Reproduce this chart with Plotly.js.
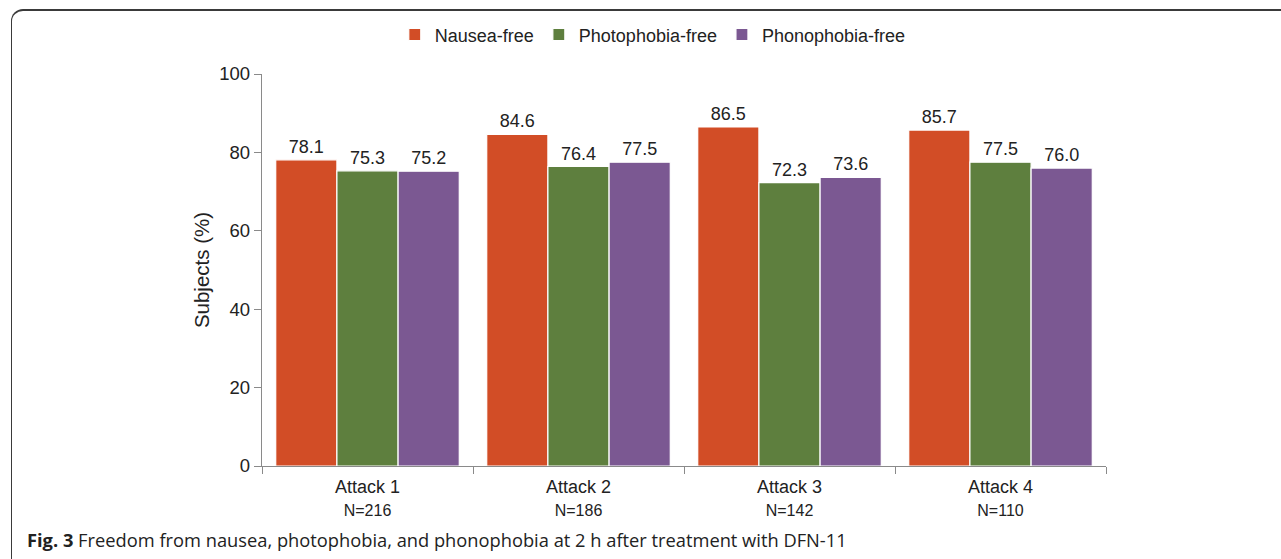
<!DOCTYPE html>
<html>
<head>
<meta charset="utf-8">
<script src="https://cdn.plot.ly/plotly-3.0.1.min.js"></script>
<style>
  html, body { margin: 0; padding: 0; background: #fff; overflow: hidden; }
  #wrap { position: relative; width: 1281px; height: 559px; }
  #chart { position: absolute; left: 0; top: 0; width: 1281px; height: 559px; }
  #frame { position: absolute; left: 11px; top: 9px; width: 1320px; height: 560px;
           border-top: 2px solid #3a3a3a; border-left: 1.5px solid #3a3a3a;
           border-top-left-radius: 12px; pointer-events: none; }
</style>
</head>
<body>
<div id="wrap">
  <div id="chart"></div>
  <div id="frame"></div>
</div>
<script>
const categories = ["Attack 1", "Attack 2", "Attack 3", "Attack 4"];
const sampleSizes = ["N=216", "N=186", "N=142", "N=110"];
const seriesNames = ["Nausea-free", "Photophobia-free", "Phonophobia-free"];
const nauseaFree = [78.1, 84.6, 86.5, 85.7];
const photophobiaFree = [75.3, 76.4, 72.3, 77.5];
const phonophobiaFree = [75.2, 77.5, 73.6, 76.0];
const yTicks = [0, 20, 40, 60, 80, 100];
const captionBold = "Fig. 3";
const captionText = " Freedom from nausea, photophobia, and phonophobia at 2 h after treatment with DFN-11";

const colors = ["#D24D26", "#5E7F3E", "#7B5892"];
const values = [nauseaFree, photophobiaFree, phonophobiaFree];

const xLabels = categories.map((c, i) => c + "<br><span style='font-size:16px'>" + sampleSizes[i] + "</span>");

const traces = values.map((v, k) => ({
  type: "bar",
  name: seriesNames[k],
  x: xLabels,
  y: v,
  marker: { color: colors[k], line: { color: "#ffffff", width: 1.2 } },
  text: v.map(d => d.toFixed(1)),
  textposition: "outside",
  cliponaxis: false,
  textfont: { family: "Liberation Sans, Arial, sans-serif", size: 18, color: "#222" },
  hoverinfo: "none"
}));

const layout = {
  width: 1281, height: 559,
  margin: { l: 262, r: 175, t: 74, b: 93 },
  paper_bgcolor: "#ffffff",
  plot_bgcolor: "#ffffff",
  font: { family: "Liberation Sans, Arial, sans-serif", size: 17, color: "#222" },
  barmode: "group",
  bargap: 0.13,
  bargroupgap: 0,
  showlegend: true,
  legend: {
    orientation: "h", x: 0.463, xanchor: "center", y: 1.1, yanchor: "middle",
    font: { size: 18, color: "#222" }, itemwidth: 30, traceorder: "normal"
  },
  xaxis: {
    type: "category",
    showline: true, linecolor: "#8a8a8a", linewidth: 1.2,
    ticks: "outside", tickson: "boundaries", ticklen: 7, tickcolor: "#8a8a8a",
    tickfont: { size: 18, color: "#222" },
    ticklabelstandoff: 4,
    showgrid: false, zeroline: false, fixedrange: true
  },
  yaxis: {
    range: [0, 100],
    tickvals: yTicks,
    showline: true, linecolor: "#8a8a8a", linewidth: 1.2,
    ticks: "outside", ticklen: 7, tickcolor: "#8a8a8a",
    tickfont: { size: 18.5, color: "#222" },
    showgrid: false, zeroline: false,
    title: { text: "Subjects (%)", font: { size: 20.5, color: "#222" }, standoff: 4 },
    fixedrange: true
  },
  annotations: [{
    xref: "paper", yref: "paper",
    x: -237 / 844, y: -73 / 392, xanchor: "left", yanchor: "middle",
    text: "<b>" + captionBold + "</b>" + captionText,
    showarrow: false,
    font: { family: "Open Sans, Noto Sans, sans-serif", size: 18.3, color: "#222" }
  }]
};

Plotly.newPlot("chart", traces, layout, { staticPlot: true, displayModeBar: false });
</script>
</body>
</html>
